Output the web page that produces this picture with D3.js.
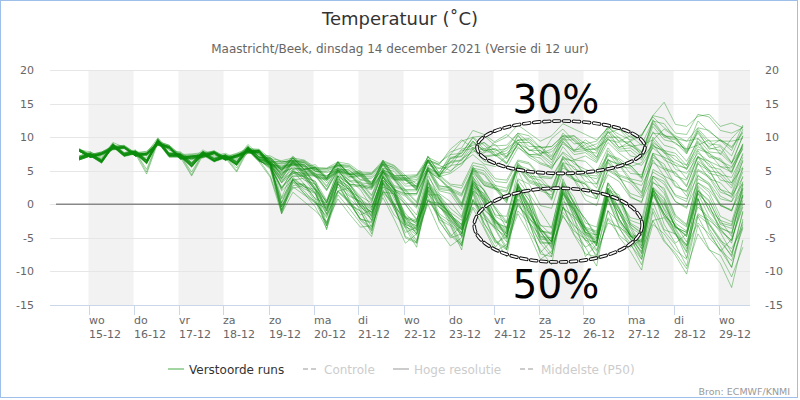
<!DOCTYPE html>
<html><head><meta charset="utf-8">
<script src="https://cdn.jsdelivr.net/npm/d3@7"></script>
<style>body{margin:0;background:#fff}svg{font-family:"DejaVu Sans",sans-serif}</style>
</head><body><svg id="c" width="800" height="400"></svg>
<script>
// lead times (hours after run 14-12 12 UTC)
const leadHours = [6,12,18,24,30,36,42,48,54,60,66,72,78,84,90,96,102,108,114,120,126,132,138,144,150,156,162,168,174,180,186,192,198,204,210,216,222,228,234,240,246,252,258,264,270,276,282,288,294,300,306,312,318,324,330,336,342,348,354,360];
const dayNames = ["wo","do","vr","za","zo","ma","di","wo","do","vr","za","zo","ma","di","wo"];
const dateLabels = ["15-12","16-12","17-12","18-12","19-12","20-12","21-12","22-12","23-12","24-12","25-12","26-12","27-12","28-12","29-12"];
const yTicks = [-15,-10,-5,0,5,10,15,20];
const legendItems = ["Verstoorde runs","Controle","Hoge resolutie","Middelste (P50)"];
const members = [
[7.9,7.0,7.4,8.9,7.6,7.9,7.3,8.8,8.4,6.7,6.9,7.0,7.6,6.6,7.1,8.6,7.0,6.9,5.4,7.2,5.6,5.9,4.0,6.4,4.6,5.0,3.1,6.6,4.2,4.3,2.6,7.2,4.6,7.4,7.6,9.9,8.2,8.9,7.1,10.4,8.0,8.6,6.6,10.2,7.9,8.9,7.0,10.9,8.4,9.4,7.2,12.6,10.2,10.0,7.6,10.9,8.2,8.6,6.2,10.2],
[7.1,7.5,6.6,8.2,8.3,7.2,7.0,9.6,7.5,7.4,6.0,7.7,6.8,7.3,6.2,7.6,7.7,5.9,5.8,5.9,5.9,4.5,4.3,5.1,5.1,3.7,3.9,5.4,4.9,3.0,3.5,5.8,5.3,5.6,8.0,8.3,9.2,7.4,8.0,9.5,9.6,7.6,8.2,9.8,10.2,8.4,9.0,10.6,11.2,9.4,10.2,13.2,15.2,11.9,11.6,13.1,13.4,11.6,12.1,11.4],
[8.1,7.8,7.0,9.2,8.5,7.4,7.6,9.9,8.0,7.8,6.6,8.1,7.2,7.6,6.8,8.9,7.4,7.2,6.3,6.5,6.4,5.2,5.3,5.8,5.6,4.3,4.4,6.0,5.5,3.8,4.2,6.6,5.9,8.2,9.6,8.4,7.6,9.4,10.4,9.0,8.2,7.2,9.8,11.2,9.4,8.0,7.6,10.8,9.4,10.2,8.8,9.6,11.2,10.0,8.2,8.8,9.6,7.4,9.8,11.6],
[6.8,7.2,6.5,8.6,7.5,7.7,6.5,9.4,7.6,7.4,6.1,7.7,6.8,7.2,6.3,8.4,7.1,6.7,5.0,6.9,5.2,5.4,3.8,6.2,4.4,4.5,2.8,6.1,3.8,3.7,2.4,6.6,4.2,6.2,6.5,8.5,7.2,7.4,6.1,9.0,7.4,7.3,5.8,9.3,7.4,7.7,6.4,9.8,7.9,8.0,6.6,10.8,8.8,8.3,6.4,9.4,7.2,6.8,4.9,9.0],
[8.2,7.4,7.8,8.7,8.7,7.7,7.9,9.4,8.8,7.4,7.5,7.7,7.9,7.1,7.6,8.3,8.2,6.8,6.5,6.9,6.6,5.5,5.4,6.3,6.0,4.8,4.7,6.5,5.8,4.3,4.4,7.0,6.2,7.4,9.4,10.0,10.2,8.7,8.8,10.6,10.2,8.5,8.6,10.2,9.8,8.2,8.3,9.6,9.2,7.2,6.9,8.8,7.8,5.2,4.6,7.1,6.0,3.6,3.2,5.6],
[7.0,7.5,6.7,8.9,7.7,7.9,6.7,9.7,7.7,7.5,6.3,7.9,7.0,7.4,6.6,8.6,7.3,7.0,5.2,7.0,5.3,5.6,4.0,6.3,4.5,4.8,3.1,6.5,4.3,4.3,3.0,7.1,4.7,7.0,7.2,9.4,8.0,8.2,6.8,9.6,8.0,8.0,6.6,9.8,8.1,8.3,7.0,10.3,8.5,8.8,7.5,12.0,10.0,9.6,8.0,11.3,9.4,9.5,8.0,11.8],
[8.0,7.2,7.5,8.4,8.5,7.5,7.6,9.2,8.6,7.2,7.2,7.5,7.8,6.9,7.3,8.1,8.0,6.5,6.3,6.5,6.2,4.9,4.7,5.3,5.1,3.6,3.4,5.1,4.4,2.7,2.8,5.4,4.6,4.8,6.8,7.8,8.3,7.2,7.6,9.2,9.2,7.6,7.8,9.6,9.6,8.1,8.2,10.0,10.0,8.6,8.9,12.4,12.0,9.8,9.4,11.4,11.0,9.4,9.4,9.8],
[6.6,7.2,6.2,8.6,7.2,7.6,6.1,9.3,7.2,7.2,5.6,7.5,6.4,7.0,5.9,8.2,6.7,6.2,4.4,6.4,4.8,5.0,3.2,5.7,3.9,4.2,2.4,6.0,3.9,3.8,2.2,6.4,4.1,4.6,5.8,8.2,6.4,6.0,5.4,8.4,7.4,6.2,5.6,7.6,6.0,5.2,4.6,7.4,6.8,5.6,6.2,9.2,8.0,6.6,5.8,8.6,7.6,6.4,5.6,8.2],
[7.9,7.0,7.6,8.3,8.5,7.2,7.5,8.9,8.5,6.9,7.1,7.2,7.7,6.7,7.3,7.9,8.0,6.2,6.1,6.4,6.3,5.1,5.1,5.8,5.7,4.4,4.5,6.1,5.4,3.7,4.0,6.4,5.8,5.0,6.2,7.4,6.0,5.6,7.2,8.6,7.0,6.0,5.4,7.8,6.6,7.2,6.2,9.2,7.6,6.4,5.8,8.4,7.0,6.2,5.2,7.6,6.4,5.6,4.8,8.4],
[6.9,7.5,6.4,8.9,7.5,7.9,6.5,9.6,7.5,7.5,6.0,7.8,6.7,7.3,6.3,8.5,7.0,6.7,4.9,6.8,5.1,5.4,3.7,6.0,4.1,4.4,2.7,6.0,3.7,3.6,2.3,6.5,4.1,6.8,7.6,10.0,8.8,7.2,8.4,10.6,9.2,8.0,7.0,9.0,8.0,9.6,8.4,11.6,9.8,8.8,7.8,10.6,10.4,9.0,8.2,12.4,10.8,9.6,8.6,10.8],
[7.2,7.7,6.6,9.0,7.6,8.0,6.6,9.7,7.6,7.7,6.2,7.9,6.8,7.4,6.4,8.6,7.1,6.9,5.1,7.0,5.2,5.5,3.9,6.3,4.4,4.7,3.0,6.4,4.1,4.0,2.6,6.7,4.3,6.8,7.1,9.4,7.8,7.8,6.2,9.2,7.2,6.9,5.2,8.6,6.6,6.4,4.8,8.4,6.2,5.8,4.0,9.0,6.6,5.8,3.8,8.0,5.6,5.2,3.2,7.6],
[8.2,7.2,7.7,8.5,8.6,7.4,7.6,9.1,8.6,7.0,7.2,7.3,7.8,6.8,7.4,8.0,8.1,6.4,6.3,6.6,6.5,5.3,5.3,6.0,5.8,4.5,4.6,6.3,5.7,4.0,4.3,6.6,6.0,7.8,8.4,11.0,10.4,9.2,10.0,11.8,10.6,9.4,10.2,12.0,11.2,10.4,9.6,11.4,10.4,9.6,10.4,13.0,11.4,10.2,9.4,9.8,8.6,9.6,8.4,10.6],
[6.7,7.3,6.3,8.7,7.3,7.7,6.3,9.4,7.3,7.3,5.8,7.6,6.5,7.1,6.0,8.3,6.8,6.4,4.6,6.6,4.9,5.2,3.5,5.9,4.1,4.3,2.6,5.8,3.6,3.6,2.1,6.3,4.0,5.8,6.0,8.2,7.0,7.3,6.0,9.0,7.4,7.5,6.2,9.4,7.8,8.0,6.7,9.8,8.2,8.4,7.1,11.6,9.6,9.2,7.5,11.0,9.0,8.8,7.2,11.2],
[8.0,7.0,7.5,8.3,8.5,7.3,7.5,9.0,8.5,6.9,7.1,7.2,7.7,6.7,7.3,7.9,8.0,6.3,6.0,6.3,6.2,4.9,4.9,5.7,5.4,4.1,4.1,5.8,5.2,3.5,3.7,6.2,5.4,6.2,8.2,8.8,9.2,8.0,8.3,9.6,9.8,8.4,8.6,10.2,10.2,9.0,9.4,11.4,11.3,10.0,10.2,13.2,12.8,10.6,10.4,13.4,13.0,11.0,10.6,11.4],
[7.0,7.6,6.5,8.9,7.5,7.9,6.5,9.6,7.5,7.5,6.1,7.8,6.7,7.3,6.3,8.5,7.0,6.8,5.0,6.9,5.2,5.5,3.8,6.2,4.4,4.6,2.9,6.3,4.0,3.9,2.5,6.6,4.3,6.4,6.6,9.2,8.0,8.3,7.0,10.2,8.6,8.6,7.2,10.6,9.0,9.2,7.9,11.2,9.3,9.3,7.8,12.2,10.2,9.8,7.8,10.6,8.4,8.0,6.2,8.6],
[7.9,7.0,7.4,8.2,8.4,7.2,7.3,8.8,8.3,6.8,6.8,7.0,7.5,6.6,7.0,7.8,7.7,5.8,5.2,5.8,5.6,4.0,3.6,4.8,4.4,2.6,2.2,4.6,3.6,1.4,1.4,5.0,3.8,2.4,1.6,5.4,5.0,2.8,2.4,5.8,5.2,3.0,2.6,6.2,5.6,3.4,3.0,6.6,6.0,3.8,3.4,7.6,7.0,4.2,3.6,7.0,6.4,4.4,4.0,7.4],
[6.8,7.4,6.4,8.8,7.3,7.7,6.2,9.4,7.3,7.3,5.7,7.6,6.5,7.1,6.0,8.3,6.7,6.3,4.0,6.3,4.5,4.4,2.2,5.2,3.0,2.8,0.8,5.0,2.2,1.6,-0.2,5.2,2.4,2.2,-0.2,5.2,3.0,2.4,0.4,5.6,3.4,2.8,1.0,6.2,3.8,3.2,1.4,6.8,4.4,3.8,1.8,7.6,5.4,4.8,2.8,7.0,4.6,4.2,2.4,6.4],
[8.1,7.2,7.6,8.4,8.5,7.3,7.5,9.0,8.5,6.9,7.1,7.2,7.7,6.7,7.2,7.8,7.9,6.0,5.4,6.1,5.9,4.3,3.9,5.1,4.6,3.0,2.6,5.0,4.0,2.0,2.0,5.4,4.2,2.8,2.4,5.8,5.4,3.4,3.2,6.4,6.0,4.0,3.8,6.8,6.4,4.4,4.2,7.2,6.6,4.6,4.4,8.6,8.0,5.8,5.4,8.2,7.6,5.6,5.4,9.0],
[6.9,7.5,6.5,8.9,7.4,7.8,6.4,9.5,7.4,7.4,5.9,7.7,6.6,7.2,6.1,8.4,6.8,6.5,4.2,6.4,4.6,4.6,2.6,5.4,3.4,3.2,1.2,5.2,2.6,2.0,0.2,5.4,2.6,2.6,0.2,5.6,3.4,2.8,0.6,5.8,3.6,3.0,0.8,6.0,3.6,3.0,0.8,6.2,3.8,3.2,1.2,6.6,4.2,3.4,1.2,6.2,3.8,3.2,1.4,5.4],
[8.2,7.3,7.7,8.5,8.6,7.4,7.6,9.1,8.6,7.0,7.2,7.3,7.8,6.8,7.3,7.9,8.0,6.1,5.6,6.2,6.0,4.4,4.2,5.3,4.8,3.2,3.0,5.2,4.2,2.2,2.2,5.6,4.4,3.0,2.8,6.2,5.8,3.8,3.6,6.6,6.2,4.2,4.0,7.0,6.4,4.2,3.8,6.6,5.8,3.4,2.8,6.2,5.2,2.6,2.0,5.2,4.2,1.8,1.2,4.0],
[6.6,7.2,6.2,8.6,7.2,7.6,6.1,9.2,7.1,7.1,5.6,7.4,6.4,7.0,5.8,8.1,6.5,6.0,3.8,6.1,4.3,4.2,2.0,5.0,2.8,2.6,0.4,4.8,2.0,1.2,-0.6,5.0,2.0,1.6,-0.8,4.8,2.8,2.4,0.6,6.0,4.0,3.6,1.8,6.8,4.6,4.2,2.4,7.6,5.6,5.4,3.8,9.6,7.6,7.2,5.2,9.2,7.0,6.6,4.6,8.8],
[8.0,7.1,7.5,8.3,8.4,7.2,7.4,8.9,8.4,6.8,6.9,7.1,7.6,6.6,7.1,7.8,7.8,5.9,5.3,5.9,5.7,4.1,3.7,4.9,4.5,2.8,2.4,4.8,3.8,1.6,1.6,5.2,4.0,2.2,1.4,5.2,4.6,2.4,2.0,5.6,4.8,2.4,2.0,5.4,4.6,2.2,1.6,5.0,4.0,1.6,1.0,4.8,3.8,1.4,0.8,4.2,3.2,0.8,0.4,3.2],
[7.0,7.6,6.6,9.0,7.5,7.9,6.5,9.6,7.5,7.5,6.0,7.8,6.7,7.3,6.2,8.5,6.9,6.6,4.3,6.5,4.7,4.7,2.8,5.5,3.6,3.4,1.4,5.4,2.8,2.2,0.4,5.6,2.8,2.4,0.0,5.4,3.2,2.6,0.8,6.2,4.2,4.0,2.2,7.2,5.2,4.8,3.0,8.0,6.0,5.8,4.0,10.0,8.0,7.6,5.8,9.8,7.8,7.6,6.0,10.2],
[8.1,7.1,7.6,8.4,8.5,7.4,7.5,9.1,8.5,6.9,7.0,7.2,7.7,6.7,7.2,7.8,7.9,6.0,5.5,6.0,5.8,4.2,3.8,5.0,4.6,2.8,2.4,4.8,3.8,1.6,1.6,5.0,3.8,2.0,1.2,5.0,4.4,2.2,1.8,5.2,4.4,2.0,1.4,4.8,3.8,1.4,0.8,4.4,3.4,1.0,0.4,4.2,3.0,0.4,-0.4,3.2,2.2,-0.2,-0.8,2.4],
[6.7,7.3,6.3,8.7,7.3,7.7,6.2,9.3,7.2,7.2,5.7,7.5,6.5,7.1,5.9,8.2,6.6,6.1,3.9,6.2,4.4,4.3,2.2,5.1,3.0,2.8,0.6,4.9,2.2,1.4,-0.4,5.2,2.2,2.0,-0.4,5.0,2.8,2.2,0.2,5.4,3.2,2.6,0.6,5.8,3.6,3.0,1.0,6.4,4.2,3.6,1.6,7.4,5.2,4.6,2.6,7.2,5.0,4.6,2.8,7.0],
[7.9,7.0,7.3,8.1,8.3,7.2,6.6,8.8,8.2,6.7,6.7,6.9,7.5,6.5,7.0,7.6,7.5,5.4,0.8,3.6,3.9,1.6,-1.4,3.0,1.9,-1.0,-2.0,3.0,1.4,-3.4,-4.0,2.0,0.0,-3.0,-4.4,2.0,0.8,-2.8,-3.4,2.6,1.2,-3.6,-5.6,0.4,-0.6,-4.2,-4.6,2.2,1.4,-3.0,-4.2,3.2,2.4,-1.6,-3.0,3.8,3.0,0.0,-1.0,3.4],
[7.2,7.8,6.8,9.1,7.7,8.1,6.6,9.8,7.6,7.6,6.2,7.9,6.9,7.4,6.4,8.6,7.0,6.3,-1.2,3.6,2.3,1.6,-3.8,3.1,-0.1,-1.0,-4.4,3.1,-0.7,-3.6,-6.4,1.9,-2.3,-3.2,-6.8,1.9,-2.9,-5.2,-7.8,0.7,-3.9,-6.8,-9.0,-0.1,-4.5,-6.4,-9.2,-0.9,-4.9,-7.0,-9.8,-1.1,-5.3,-7.6,-10.4,-3.1,-6.7,-8.8,-12.4,-5.3],
[6.8,7.3,6.3,8.7,7.3,7.6,6.1,9.3,7.2,7.2,5.6,7.5,6.5,7.1,5.9,8.2,6.6,5.4,2.6,4.2,4.2,2.0,-1.0,3.4,2.2,-0.4,-1.6,3.4,1.6,-3.0,-3.6,2.4,0.4,-2.4,-3.8,2.6,1.6,-1.6,-1.8,3.8,3.0,-0.2,-0.6,4.6,3.6,0.6,-0.2,5.2,4.2,1.2,0.2,7.0,6.0,2.8,1.8,6.4,5.2,2.2,1.0,4.8],
[8.2,7.3,7.6,8.5,8.6,7.4,7.6,9.1,8.6,7.0,7.2,7.4,7.8,6.8,7.3,7.9,8.0,6.0,3.2,5.8,4.0,3.4,-1.0,4.8,2.0,1.0,-1.8,4.6,1.2,-1.8,-3.8,3.6,0.0,-1.2,-4.4,3.8,0.0,-2.2,-5.0,3.2,-1.0,-4.2,-6.0,2.8,-1.4,-3.6,-6.0,2.4,-2.2,-5.0,-8.2,-0.6,-4.0,-6.0,-9.2,-1.8,-5.0,-6.8,-9.4,-2.2],
[6.9,7.5,6.4,8.8,7.4,7.8,4.8,9.5,7.3,7.3,4.4,7.6,6.5,7.1,5.0,8.3,6.6,4.2,-0.8,2.4,2.8,0.4,-3.2,1.8,0.4,-2.4,-3.8,1.8,-0.2,-5.0,-5.8,0.6,-1.8,-4.6,-6.2,0.6,-1.8,-5.6,-6.8,0.0,-2.6,-7.4,-7.8,-0.4,-2.2,-5.4,-5.6,2.0,1.0,-2.4,-3.0,4.2,3.4,0.4,-0.6,5.0,4.0,1.2,0.4,5.4],
[7.9,7.1,7.4,8.3,8.4,7.2,7.3,8.9,8.3,6.8,6.8,7.0,7.5,6.6,7.0,7.7,7.6,5.5,2.4,5.0,3.0,0.8,0.2,4.2,0.6,-1.6,-0.8,4.4,-0.4,-2.0,-2.6,3.8,-2.6,-4.8,-3.2,1.6,-3.4,-6.4,-4.0,2.4,-2.8,-7.2,-5.4,1.8,-2.0,-7.8,-6.0,0.6,-3.4,-6.4,-5.2,2.2,-3.0,-5.8,-4.4,1.0,-4.0,-7.0,-5.2,-0.4],
[6.7,7.3,6.3,8.6,7.2,7.6,6.0,9.3,7.1,7.1,5.5,7.4,6.4,7.0,5.8,8.1,6.4,5.8,-0.8,3.8,2.6,1.8,-3.2,3.2,0.2,-1.0,-4.0,3.2,-0.2,-3.4,-5.8,2.2,-1.8,-3.0,-6.2,2.0,-1.6,-3.8,-6.8,1.4,-2.8,-5.8,-7.8,1.0,-3.0,-5.4,-7.6,0.8,-3.2,-5.2,-7.8,1.6,-1.4,-3.8,-6.6,2.2,-0.8,-2.4,-4.8,3.0],
[8.3,7.4,7.8,8.6,8.8,7.6,7.8,9.3,8.8,7.2,7.4,7.5,8.0,7.0,7.5,8.1,8.1,6.3,4.6,5.4,5.2,3.0,0.2,4.2,3.0,0.6,-0.6,4.0,2.4,-2.0,-2.6,3.2,1.2,-1.6,-3.0,3.6,1.4,-2.4,-3.6,2.8,0.6,-4.0,-4.4,2.6,0.2,-3.6,-4.2,2.4,0.4,-3.4,-4.6,2.6,1.0,-2.8,-4.0,2.0,0.6,-3.0,-3.6,1.4],
[6.6,7.2,6.1,8.5,7.1,7.5,4.5,9.2,7.0,7.0,4.2,7.3,6.3,6.9,4.8,8.0,6.3,4.0,-1.4,1.8,0.4,-1.0,-2.6,0.8,-1.4,-3.4,-3.2,1.0,-2.2,-5.8,-4.4,0.0,-3.8,-6.2,-5.0,-0.6,-3.6,-7.0,-6.0,-1.4,-4.4,-8.2,-7.0,-1.6,-4.6,-7.4,-7.8,-2.2,-4.6,-6.0,-8.2,-2.4,-5.6,-7.2,-9.6,-4.4,-6.8,-7.6,-10.8,-6.4],
[8.0,7.0,7.5,8.3,8.5,7.3,7.5,9.0,8.5,6.9,7.1,7.2,7.7,6.7,7.2,7.8,7.8,5.8,3.2,4.6,4.4,2.2,-0.6,3.6,2.4,-0.2,-1.4,3.6,1.8,-2.8,-3.4,2.6,0.6,-2.2,-3.8,2.8,0.6,-3.2,-4.4,2.2,-0.4,-5.2,-5.4,1.8,-0.8,-4.6,-5.4,1.4,-0.8,-4.6,-5.8,2.0,0.2,-3.4,-4.2,3.2,1.8,-1.8,-2.6,3.0],
[7.0,7.6,6.5,8.9,7.5,7.9,6.4,9.6,7.4,7.4,5.9,7.7,6.6,7.2,6.1,8.4,6.7,6.1,-0.4,4.0,2.6,2.2,-2.8,3.4,0.8,-0.6,-3.4,3.4,0.2,-3.0,-5.4,2.6,-1.4,-2.6,-5.8,2.4,-1.4,-3.6,-6.4,1.8,-2.2,-3.6,-5.2,3.2,0.0,-2.2,-4.6,3.0,-0.8,-3.2,-6.2,2.0,-1.8,-4.4,-7.2,0.8,-2.8,-5.2,-7.8,-1.2],
[8.1,7.1,7.6,8.4,8.6,7.4,7.6,9.1,8.6,7.0,7.2,7.3,7.8,6.8,7.3,7.9,7.9,5.9,3.4,4.8,4.6,2.4,-0.4,3.8,2.6,0.0,-1.2,3.6,1.8,-2.6,-3.2,2.8,0.8,-1.8,-3.4,3.2,1.2,-2.6,-3.8,3.0,0.6,-4.0,-4.2,3.0,0.4,-3.4,-4.0,3.2,0.8,-3.0,-4.4,4.0,2.0,-1.8,-3.2,4.4,2.8,-0.2,-1.0,4.2],
[6.8,7.4,6.4,8.8,7.3,7.7,6.3,9.5,7.3,7.3,5.8,7.6,6.5,7.1,6.0,8.3,6.6,5.2,-1.0,3.4,1.6,0.4,-2.0,3.0,1.2,0.4,-1.2,1.8,1.6,0.0,-2.2,0.4,0.2,-1.4,-3.6,-0.4,-2.2,-3.4,-5.2,-1.0,-2.8,-4.6,-6.2,-1.8,-4.0,-5.2,-7.0,-2.8,-3.4,-4.6,-6.2,1.4,-1.8,-3.0,-5.6,-0.4,-2.0,-4.2,-7.2,-2.6],
[7.9,7.0,7.4,8.2,8.4,7.2,7.4,8.9,8.4,6.8,6.9,7.1,7.6,6.6,7.1,7.7,7.7,5.7,2.4,4.2,4.2,2.2,-0.8,3.4,2.2,-0.4,-1.8,3.2,1.4,-3.0,-3.8,2.2,0.2,-2.6,-4.2,2.4,0.2,-3.6,-4.8,1.8,-0.8,-5.6,-5.8,1.4,-1.2,-5.0,-5.8,1.0,0.6,-2.0,-2.4,5.2,4.2,1.2,0.4,6.0,5.0,2.2,1.6,6.6],
[6.9,7.5,6.4,8.8,7.4,7.8,6.3,9.5,7.3,7.3,5.7,7.6,6.5,7.1,5.9,8.3,6.5,5.6,-1.4,3.2,3.0,1.6,-1.6,2.0,2.4,-0.2,-2.4,2.6,1.8,-1.4,-3.0,1.4,1.4,-0.6,-2.0,3.4,2.2,-0.8,-2.8,0.8,-1.2,-3.6,-5.6,-0.6,-1.8,-4.2,-6.8,-1.0,-2.6,-5.2,-7.0,-2.4,-2.0,-4.6,-6.2,-2.8,-4.4,-6.8,-8.4,-3.6],
[8.2,7.2,7.7,8.5,8.7,7.5,7.7,9.2,8.7,7.1,7.2,7.4,7.9,6.9,7.4,8.0,8.0,6.0,3.8,5.2,5.0,2.8,0.2,4.4,3.2,0.8,-0.4,4.2,2.6,-1.8,-2.4,3.4,1.4,-1.2,-2.4,4.0,2.0,-1.8,-2.8,3.6,1.4,-3.2,-3.4,3.4,1.0,-2.8,-3.4,3.2,1.0,-2.8,-3.8,3.4,1.6,-2.2,-3.4,2.8,1.2,-2.4,-3.0,2.2],
[6.7,7.3,6.2,8.6,7.2,7.6,6.2,9.3,7.2,7.2,5.6,7.5,6.4,7.0,5.9,8.2,6.5,5.9,0.2,4.6,4.2,3.4,0.6,4.8,3.6,2.2,-0.4,4.0,2.2,0.0,-2.4,4.2,1.6,0.4,-1.8,4.6,2.0,-0.6,-3.6,2.6,-1.4,-4.0,-6.4,1.6,-1.0,-3.4,-5.8,0.8,-2.4,-4.6,-7.4,0.4,-3.8,-4.4,-6.0,-1.4,-2.4,-3.8,-5.4,0.6],
[8.0,7.0,7.5,8.3,8.5,7.3,7.5,9.0,8.5,6.9,7.0,7.2,7.7,6.7,7.2,7.8,7.8,5.8,2.0,3.6,2.0,0.2,-0.6,2.6,0.4,-2.2,-2.8,2.2,-0.6,-4.2,-3.4,1.2,-2.4,-5.0,-4.4,0.6,-2.8,-5.8,-4.8,1.8,-1.8,-5.2,-7.4,-0.4,-3.6,-6.4,-5.4,1.4,-1.2,-4.8,-4.6,2.4,-0.6,-3.2,-4.8,2.6,-1.0,-3.4,-4.4,1.8],
[7.0,7.6,6.5,8.9,7.5,7.9,6.5,9.6,7.5,7.5,6.0,7.8,6.7,7.3,6.2,8.4,6.8,6.3,2.2,5.2,3.6,3.0,-1.4,4.2,1.4,0.4,-2.4,4.2,0.8,-2.0,-4.4,3.2,-0.4,-1.6,-4.8,3.4,1.0,-0.4,-2.6,5.0,1.6,-1.0,-3.6,3.8,0.0,-2.2,-5.0,2.4,-1.4,-3.6,-6.6,2.0,-1.4,-3.6,-6.2,1.6,-1.8,-3.6,-5.8,1.4],
[8.1,7.1,7.6,8.4,8.6,7.4,7.6,9.1,8.6,7.0,7.1,7.3,7.8,6.8,7.3,7.9,7.9,5.8,0.2,3.8,1.6,-0.4,-3.6,1.4,-0.6,-2.8,-4.8,1.6,-1.6,-3.2,-4.6,0.6,-0.4,-1.8,-3.8,0.2,-0.8,-2.4,-4.4,-0.2,-2.0,-4.0,-6.6,-1.2,-3.2,-4.6,-8.0,-2.0,-3.6,-5.8,-9.0,-3.0,-4.4,-6.8,-8.2,-1.6,-3.0,-5.4,-6.6,-3.4],
[6.8,7.4,6.3,8.7,7.3,7.7,6.2,9.4,7.3,7.3,5.8,7.6,6.5,7.1,6.0,8.2,6.6,6.2,1.0,5.0,4.0,2.2,0.4,5.2,3.0,1.2,0.2,5.0,2.4,0.4,-1.6,4.6,0.8,-1.6,-3.0,4.2,0.4,-3.2,-5.6,3.0,-0.4,-3.0,-4.6,2.8,-0.8,-4.0,-6.2,2.0,-2.2,-4.6,-6.6,1.4,-1.4,-4.2,-7.0,0.2,-3.0,-5.6,-7.6,-1.0],
[8.0,7.1,7.4,8.2,8.4,7.2,7.4,8.9,8.4,6.8,6.9,7.1,7.6,6.6,7.1,7.7,7.7,5.7,3.6,4.8,4.6,2.4,-0.2,3.8,2.6,0.0,-1.2,3.6,2.0,-2.4,-3.2,2.6,0.8,-2.0,-3.6,3.0,0.8,-3.0,-4.2,2.4,-0.2,-5.0,-5.2,2.0,-0.6,-4.4,-5.2,1.6,-0.6,-4.4,-5.6,1.6,0.0,-3.4,-4.2,2.0,0.4,-2.8,-3.2,2.4],
[6.9,7.5,6.4,8.8,7.4,7.8,5.2,9.5,7.3,7.3,4.8,7.6,6.5,7.1,5.4,8.3,6.6,5.4,-0.4,2.8,3.0,0.8,-3.0,2.0,0.6,-2.2,-3.6,2.0,0.0,-4.8,-5.6,0.8,-1.6,-4.4,-6.0,0.8,-1.6,-5.4,-6.6,0.2,-2.4,-5.8,-5.8,1.6,-0.2,-3.8,-4.6,1.0,-1.2,-4.8,-5.6,2.4,0.8,-3.4,-4.8,1.8,-0.2,-4.0,-5.4,0.0],
[8.0,7.0,7.5,8.3,8.5,7.3,7.5,9.0,8.5,6.9,7.0,7.2,7.7,6.7,7.2,7.8,7.8,5.9,4.8,5.4,5.2,3.0,0.4,4.2,3.0,0.4,-0.8,4.0,2.2,-2.2,-2.8,3.0,1.0,-1.8,-3.2,3.2,1.0,-2.8,-4.0,2.6,0.0,-4.8,-5.0,2.2,-0.4,-4.2,-5.0,1.8,-0.4,-4.2,-5.4,2.2,0.4,-3.4,-4.6,1.6,-0.2,-3.6,-4.2,1.2],
[6.6,7.2,6.2,8.6,7.2,7.6,6.1,9.3,7.2,7.2,5.6,7.5,6.4,7.0,5.8,8.1,6.4,5.8,-0.2,2.6,1.4,0.2,-1.8,2.0,0.2,-2.2,-2.6,2.6,0.0,-2.6,-4.4,1.6,-0.4,-2.2,-4.8,3.0,-0.8,-2.4,-4.8,2.8,-1.4,-3.8,-5.6,2.2,-1.8,-3.6,-6.2,1.8,-2.2,-4.6,-7.2,2.4,-0.8,-4.2,-8.0,0.8,-3.6,-6.2,-9.4,-3.0]
];

const plot = {left: 50, right: 750, top: 70, bottom: 305};
const runOffset = -11; // lead hour -> hours after 15-12 00:00 local time
const x = d3.scaleLinear().domain([0, 14 * 24]).range([88.5, 718.5]);
const y = d3.scaleLinear().domain([-15, 20]).range([plot.bottom, plot.top]);

const svg = d3.select("#c");
svg.append("rect").attr("x", 0.5).attr("y", 0.5).attr("width", 797).attr("height", 397)
  .attr("fill", "#fff").attr("stroke", "#9dbfe9").attr("stroke-width", 1);

svg.append("defs").append("clipPath").attr("id", "clip").append("rect")
  .attr("x", plot.left).attr("y", plot.top).attr("width", plot.right - plot.left).attr("height", plot.bottom - plot.top);

// alternating day bands
const bands = svg.append("g").attr("clip-path", "url(#clip)");
dayNames.forEach((d, i) => {
  if (i % 2 === 0) {
    bands.append("rect").attr("x", x(i * 24)).attr("y", plot.top)
      .attr("width", x((i + 1) * 24) - x(i * 24)).attr("height", plot.bottom - plot.top)
      .attr("fill", "#f2f2f2");
  }
});

// horizontal grid
const grid = svg.append("g");
yTicks.forEach(t => {
  if (t === -15) return;
  grid.append("line").attr("x1", plot.left).attr("x2", plot.right)
    .attr("y1", Math.round(y(t)) + 0.5).attr("y2", Math.round(y(t)) + 0.5)
    .attr("stroke", "#e6e6e6").attr("stroke-width", 1);
});

// y labels both sides
const lab = svg.append("g").attr("font-size", 11).attr("fill", "#666");
yTicks.forEach(t => {
  lab.append("text").attr("x", 34).attr("y", y(t) + 4).attr("text-anchor", "end").text(t);
  lab.append("text").attr("x", 765).attr("y", y(t) + 4).attr("text-anchor", "start").text(t);
});

// zero line
svg.append("line").attr("x1", plot.left + 6).attr("x2", plot.right - 5)
  .attr("y1", y(0)).attr("y2", y(0)).attr("stroke", "#888").attr("stroke-width", 1.5);

// x axis
const xa = svg.append("g");
xa.append("line").attr("x1", plot.left).attr("x2", plot.right)
  .attr("y1", plot.bottom + 0.5).attr("y2", plot.bottom + 0.5).attr("stroke", "#ccd6eb");
dayNames.forEach((d, i) => {
  const px = Math.round(x(i * 24)) + 0.5;
  xa.append("line").attr("x1", px).attr("x2", px).attr("y1", plot.bottom).attr("y2", plot.bottom + 10).attr("stroke", "#ccd6eb");
  const tx = xa.append("text").attr("x", px - 0.5).attr("y", 324).attr("font-size", 11).attr("fill", "#666");
  tx.append("tspan").attr("x", px - 0.5).text(d);
  tx.append("tspan").attr("x", px - 0.5).attr("dy", 13.5).text(dateLabels[i]);
});

// ensemble lines
const line = d3.line().x((d, i) => x(leadHours[i] + runOffset)).y(d => y(d));
svg.append("g").attr("clip-path", "url(#clip)")
  .selectAll("path").data(members).join("path")
  .attr("d", line).attr("fill", "none")
  .attr("stroke", "#0a8a0a").attr("stroke-opacity", 0.47).attr("stroke-width", 0.85)
  .attr("stroke-linejoin", "round");

// annotations (ellipses + percentages)
const ellipses = [
  {h: 252, t: 8.5, rh: 44.8, rt: 3.9},
  {h: 250.5, t: -3.1, rh: 44.8, rt: 5.5}
];
const ann = svg.append("g");
ellipses.forEach(e => {
  const cx = x(e.h), cy = y(e.t), rx = x(e.h + e.rh) - cx, ry = y(e.t - e.rt) - cy;
  ann.append("ellipse").attr("cx", cx).attr("cy", cy).attr("rx", rx).attr("ry", ry)
    .attr("fill", "none").attr("stroke", "#111").attr("stroke-width", 3.6)
    .attr("stroke-dasharray", "6 4").attr("stroke-linecap", "round");
  ann.append("ellipse").attr("cx", cx).attr("cy", cy).attr("rx", rx).attr("ry", ry)
    .attr("fill", "none").attr("stroke", "#fff").attr("stroke-width", 1.6)
    .attr("stroke-dasharray", "6 4").attr("stroke-linecap", "round");
});
const pctLabels = [{txt: "30%", h: 249.3, t: 13.6}, {txt: "50%", h: 249.3, t: -14.0}];
pctLabels.forEach(p => {
  ann.append("text").attr("x", x(p.h)).attr("y", y(p.t)).attr("text-anchor", "middle")
    .attr("font-size", 39).attr("fill", "#000").text(p.txt);
});

// title & subtitle
svg.append("text").attr("x", 400).attr("y", 25).attr("text-anchor", "middle")
  .attr("font-size", 18).attr("fill", "#333").text("Temperatuur (\u02DAC)");
svg.append("text").attr("x", 400).attr("y", 53).attr("text-anchor", "middle")
  .attr("font-size", 12).attr("fill", "#666").text("Maastricht/Beek, dinsdag 14 december 2021 (Versie di 12 uur)");

// legend
const lg = svg.append("g").attr("font-size", 12);
const lgPos = [168, 303, 393, 520];
const lgStyle = [
  {stroke: "#a3d6a3", dash: null, text: "#333"},
  {stroke: "#cccccc", dash: "5 3", text: "#cccccc"},
  {stroke: "#cccccc", dash: null, text: "#cccccc"},
  {stroke: "#cccccc", dash: "5 3", text: "#cccccc"}
];
legendItems.forEach((name, i) => {
  const lx = lgPos[i], s = lgStyle[i];
  const l = lg.append("line").attr("x1", lx).attr("x2", lx + 16).attr("y1", 369).attr("y2", 369)
    .attr("stroke", s.stroke).attr("stroke-width", 2);
  if (s.dash) l.attr("stroke-dasharray", s.dash);
  lg.append("text").attr("x", lx + 21).attr("y", 373.5).attr("fill", s.text).text(name);
});

svg.append("text").attr("x", 790).attr("y", 395).attr("text-anchor", "end")
  .attr("font-size", 9.5).attr("fill", "#999").text("Bron: ECMWF/KNMI");
</script></body></html>
